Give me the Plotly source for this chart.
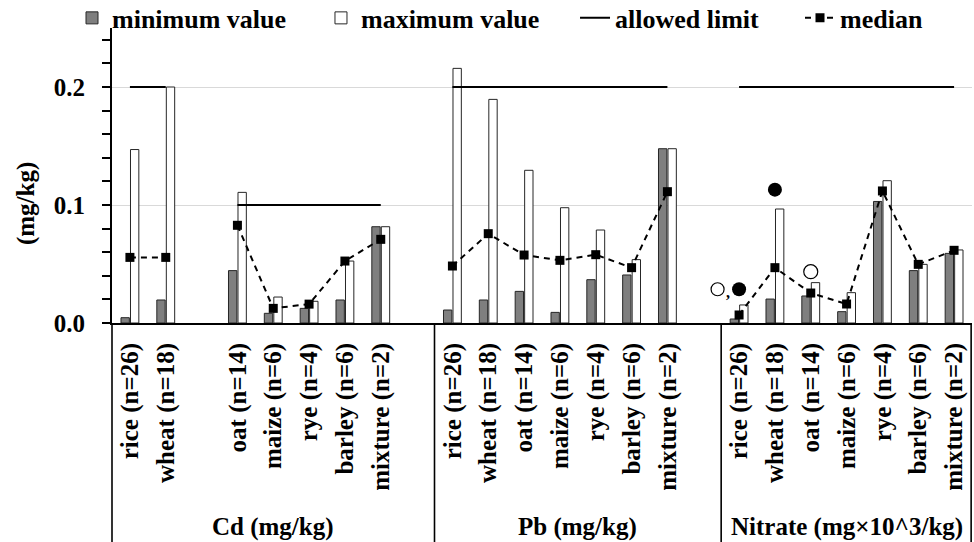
import plotly.graph_objects as go

# ---------------- data ----------------
crops = ["rice (n=26)", "wheat (n=18)", "oat (n=14)", "maize (n=6)",
         "rye (n=4)", "barley (n=6)", "mixture (n=2)"]
groups = ["Cd (mg/kg)", "Pb (mg/kg)", "Nitrate (mg×10^3/kg)"]

cd_min = [0.0045, 0.0195, 0.0444, 0.0082, 0.0124, 0.0195, 0.0816]
cd_max = [0.147, 0.200, 0.1107, 0.022, 0.0184, 0.0525, 0.0816]
cd_med = [0.0556, 0.0556, 0.0828, 0.0124, 0.016, 0.0525, 0.0709]
cd_lim = [0.2, 0.2, 0.1, 0.1, 0.1, 0.1, 0.1]

pb_min = [0.011, 0.0195, 0.0268, 0.009, 0.0367, 0.0407, 0.1477]
pb_max = [0.2158, 0.1895, 0.1294, 0.0977, 0.0788, 0.0537, 0.1477]
pb_med = [0.0483, 0.0757, 0.0576, 0.0531, 0.0579, 0.0469, 0.1113]
pb_lim = [0.2] * 7

ni_min = [0.0034, 0.0203, 0.0229, 0.0096, 0.103, 0.0444, 0.059]
ni_max = [0.0153, 0.0966, 0.0342, 0.0257, 0.1206, 0.0497, 0.0619]
ni_med = [0.0068, 0.0469, 0.0254, 0.0161, 0.1119, 0.0497, 0.0616]
ni_lim = [0.2] * 7

# slot layout per group (None = empty slot)
cd_slots = [0, 1, None, 2, 3, 4, 5, 6, None]
pb_slots = [0, 1, 2, 3, 4, 5, 6, None]
ni_slots = [0, 1, 2, 3, 4, 5, 6]

# extra nitrate symbols (filled circles, open circles)
ni_filled_crops = ["rice (n=26)", "wheat (n=18)"]
ni_filled_vals = [0.0286, 0.113]
ni_open_crops = ["oat (n=14)"]
ni_open_vals = [0.0435]
ni_open_rice_val = 0.0286

legend_names = ["minimum value", "maximum value", "allowed limit", "median"]

# ---------------- build series ----------------
xs, ticktext = [], []
ymin, ymax, ymed, ylim = [], [], [], []
group_spans = []
for gname, slots, mn, mx, md, lm in [
        (groups[0], cd_slots, cd_min, cd_max, cd_med, cd_lim),
        (groups[1], pb_slots, pb_min, pb_max, pb_med, pb_lim),
        (groups[2], ni_slots, ni_min, ni_max, ni_med, ni_lim)]:
    start = len(xs)
    for k, s in enumerate(slots):
        xs.append(f"{gname}|{k}")
        if s is None:
            ticktext.append("")
            ymin.append(None); ymax.append(None); ymed.append(None); ylim.append(None)
        else:
            ticktext.append(crops[s])
            ymin.append(mn[s]); ymax.append(mx[s]); ymed.append(md[s]); ylim.append(lm[s])
    group_spans.append((start, len(xs) - 1))

def nitrate_x(crop):
    return f"{groups[2]}|{crops.index(crop)}"

FONT = "Liberation Serif"
fig = go.Figure()
fig.add_trace(go.Bar(x=xs, y=ymin, name=legend_names[0], legend="legend",
                     marker=dict(color="#7f7f7f", line=dict(color="#262626", width=1))))
fig.add_trace(go.Bar(x=xs, y=ymax, name=legend_names[1], legend="legend2",
                     marker=dict(color="white", line=dict(color="#262626", width=1))))
fig.add_trace(go.Scatter(x=xs, y=ylim, name=legend_names[2], legend="legend3", mode="lines",
                         line=dict(color="black", width=2), connectgaps=False))
fig.add_trace(go.Scatter(x=xs, y=ymed, name=legend_names[3], legend="legend4",
                         mode="lines+markers",
                         line=dict(color="black", width=2, dash="6px,5px"),
                         marker=dict(symbol="square", size=9, color="black"),
                         connectgaps=False))
fig.add_trace(go.Scatter(x=[nitrate_x(c) for c in ni_filled_crops], y=ni_filled_vals,
                         mode="markers", showlegend=False,
                         marker=dict(symbol="circle", size=14, color="black")))
fig.add_trace(go.Scatter(x=[nitrate_x(c) for c in ni_open_crops], y=ni_open_vals,
                         mode="markers", showlegend=False,
                         marker=dict(symbol="circle-open", size=14, color="black",
                                     line=dict(width=1.2))))

# open circle + comma left of the nitrate rice filled circle
rice_idx = xs.index(nitrate_x(crops[0]))
fig.add_shape(type="circle", xref="x", yref="y", xsizemode="pixel", ysizemode="pixel",
              xanchor=rice_idx, yanchor=ni_open_rice_val,
              x0=-28, x1=-15, y0=-6.5, y1=6.5, line=dict(color="black", width=1.2))
fig.add_annotation(x=rice_idx, y=ni_open_rice_val, xref="x", yref="y", text=",",
                   showarrow=False, xshift=-11, yshift=-3,
                   font=dict(family=FONT, size=16, color="black"))

# group labels and dividers
for (a, b), g in zip(group_spans, groups):
    fig.add_annotation(x=(a + b) / 2, y=-0.6915, xref="x", yref="paper", text=g,
                       showarrow=False, yanchor="middle", xanchor="center",
                       font=dict(family=FONT, size=25, color="black", weight="bold"))
for (a, b) in group_spans[:-1]:
    fig.add_shape(type="line", xref="x", yref="paper", x0=b + 0.5, x1=b + 0.5,
                  y0=0, y1=-0.8, line=dict(color="black", width=1.6))
fig.add_shape(type="line", xref="paper", yref="paper", x0=0, x1=0, y0=0, y1=-0.8,
              line=dict(color="black", width=1.6))
fig.add_shape(type="line", xref="paper", yref="paper", x0=0.999, x1=0.999, y0=0, y1=-0.8,
              line=dict(color="black", width=1.6))

# y-axis title
fig.add_annotation(x=-0.1, y=0.403, xref="paper", yref="paper", text="(mg/kg)",
                   textangle=-90, showarrow=False, xanchor="center", yanchor="middle",
                   font=dict(family=FONT, size=25, color="black", weight="bold"))

legfont = dict(family=FONT, size=26, color="black", weight="bold")
def leg(x):
    return dict(orientation="h", x=x, xanchor="left", y=1.034, yanchor="middle",
                font=legfont, bgcolor="rgba(0,0,0,0)")

fig.update_layout(
    width=974, height=542,
    margin=dict(l=112, r=2, t=28, b=219, autoexpand=False),
    paper_bgcolor="white", plot_bgcolor="white",
    font=dict(family=FONT, size=25, color="black", weight="bold"),
    barmode="group", bargap=0.47, bargroupgap=0.12,
    showlegend=True,
    legend=leg(-0.0465), legend2=leg(0.243), legend3=leg(0.5384), legend4=leg(0.80),
    xaxis=dict(type="category", categoryorder="array", categoryarray=xs,
               tickmode="array", tickvals=xs, ticktext=ticktext, tickangle=-90,
               showline=True, linecolor="black", linewidth=2, ticks="",
               showgrid=False, ticklabelstandoff=8,
               range=[-0.5, len(xs) - 0.5]),
    yaxis=dict(range=[0, 0.25], tickmode="linear", tick0=0, dtick=0.1, tickformat=".1f",
               showline=True, linecolor="black", linewidth=2,
               ticks="outside", ticklen=8, tickwidth=1.5, tickcolor="black",
               showgrid=True, gridcolor="#d9d9d9", gridwidth=1, zeroline=False,
               ticklabelstandoff=12,
               minor=dict(tick0=0, dtick=0.02, ticks="outside", ticklen=8,
                          tickwidth=1.5, tickcolor="black", showgrid=False)),
)

fig.write_html("out.html",
               config={"displayModeBar": False},
               post_script="document.body.style.margin='0px';"
                           "document.body.style.overflow='hidden';")
